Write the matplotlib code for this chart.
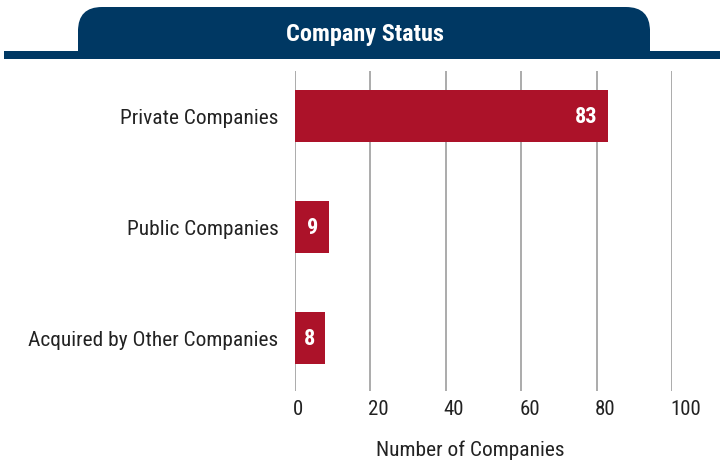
import matplotlib
matplotlib.use("Agg")
import matplotlib.pyplot as plt
import matplotlib.transforms as mtransforms
from matplotlib.patches import FancyBboxPatch, Rectangle
from matplotlib import font_manager

categories = ["Private Companies", "Public Companies", "Acquired by Other Companies"]
values = [83, 9, 8]
xticks = [0, 20, 40, 60, 80, 100]
title = "Company Status"
xlabel = "Number of Companies"

names = {f.name for f in font_manager.fontManager.ttflist}
fam = [f for f in ["Liberation Sans Narrow", "Roboto Condensed", "Roboto", "DejaVu Sans"] if f in names]
plt.rcParams['font.family'] = fam

NAVY = "#003863"
RED = "#AC1229"
TXT = "#222222"
W, H = 720, 464
fig = plt.figure(figsize=(7.2, 4.64), dpi=100)

# axes: x 0 -> px 295, 100 -> px 672 ; y from px 72 to 392
ax = fig.add_axes([295 / W, 1 - 392 / H, 377 / W, 320 / H])
ypos = list(range(len(categories)))
ax.barh(ypos, values, height=0.47, color=RED, zorder=3)
ax.set_xlim(0, 100)
ax.set_ylim(2.48, -0.405)
ax.set_yticks(ypos)
ax.set_yticklabels(categories, fontsize=15.4, color=TXT)
ax.set_xticks(xticks)
ax.set_xticklabels([str(t) for t in xticks], fontsize=15, color=TXT)
ax.tick_params(axis='y', length=0, pad=12)
ax.tick_params(axis='x', length=0, pad=6)
shift = mtransforms.ScaledTranslation(-2 / 100, 0, fig.dpi_scale_trans)
for lab in ax.get_xticklabels():
    lab.set_horizontalalignment('left')
    lab.set_transform(lab.get_transform() + shift)
for s in ax.spines.values():
    s.set_visible(False)
ax.grid(axis='x', color="#A5A5A5", linewidth=1.3, zorder=0)
ax.set_xlabel(xlabel, fontsize=15.4, color=TXT, labelpad=16)
ax.xaxis.set_label_coords((470 - 295) / 377, -(450 - 392) / 320 + 0.0)
ax.xaxis.label.set_verticalalignment('center')

for y, v in zip(ypos, values):
    ax.annotate(str(v), xy=(v, y), xytext=(-7.5, 0), textcoords="offset points",
                ha="right", va="center", color="white", fontsize=16, fontweight="bold", zorder=4)

# header banner
fig.patches.append(Rectangle((4 / W, 1 - 60 / H), (W - 4) / W, 8 / H,
                             transform=fig.transFigure, facecolor=NAVY, edgecolor="none"))
r = 24
fig.patches.append(FancyBboxPatch((78 / W, 1 - 60 / H), (650 - 78) / W, 52 / H,
                                  boxstyle=f"round,pad=0,rounding_size={r / W}",
                                  transform=fig.transFigure, facecolor=NAVY, edgecolor="none",
                                  mutation_aspect=W / H))
fig.patches.append(Rectangle((78 / W, 1 - 60 / H), (650 - 78) / W, 30 / H,
                             transform=fig.transFigure, facecolor=NAVY, edgecolor="none"))
fig.text(365 / W, 1 - 34 / H, title, ha="center", va="center", color="white",
         fontsize=17.5, fontweight="bold")

fig.savefig("out.png", dpi=100)
